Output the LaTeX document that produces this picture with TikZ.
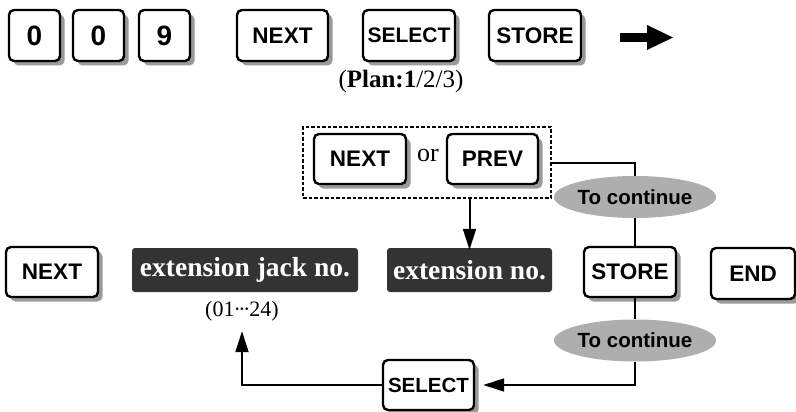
\documentclass[tikz,border=0pt]{standalone}
\usepackage{fontspec}
\setmainfont{Liberation Serif}
\newfontfamily\keyfont{Liberation Sans}
\usetikzlibrary{shadows,shapes.geometric,arrows.meta}
\definecolor{darkbox}{HTML}{333333}
\definecolor{shadowgray}{HTML}{9A9A9A}
\definecolor{ovalgray}{HTML}{AEAEAE}
\tikzset{
  keybox/.style={draw=black, line width=2.4pt, rounded corners=5pt, fill=white,
    inner sep=0pt, minimum height=50pt, minimum width=92pt,
    font=\keyfont\bfseries\fontsize{22.5}{24}\selectfont,
    drop shadow={shadow xshift=4.5pt, shadow yshift=-4.5pt, fill=shadowgray, opacity=1}},
  digitkey/.style={keybox, minimum width=51pt, minimum height=51pt,
    font=\keyfont\bfseries\fontsize{28}{30}\selectfont},
  darkbox/.style={fill=darkbox, rounded corners=3pt, inner sep=0pt, minimum height=44pt,
    text=white, font=\bfseries\fontsize{27.5}{30}\selectfont},
  oval/.style={ellipse, fill=ovalgray, inner sep=0pt, minimum width=141pt, minimum height=42pt,
    font=\keyfont\bfseries\fontsize{20.5}{22}\selectfont},
  conn/.style={line width=2pt},
  arr/.style={conn, -{Triangle[length=21pt,width=13pt]}},
  serifnote/.style={inner sep=0pt, font=\fontsize{21}{24}\selectfont}
}
\begin{document}
\begin{tikzpicture}[x=1pt,y=-1pt]
\useasboundingbox (0,0) rectangle (796,412);
% top row
\node[digitkey] (ka) at (34.5,35.5) {0};
\node[digitkey] (kb) at (98.5,35.5) {0};
\node[digitkey] (kc) at (164.5,35.5) {9};
\node[keybox, minimum width=91pt, minimum height=51pt] (tnext) at (282.5,35.5) {NEXT};
\node[keybox, minimum height=51pt, font=\keyfont\bfseries\fontsize{21}{24}\selectfont] (tselect) at (409,35.5) {SELECT};
\node[keybox, minimum height=51pt] (tstore) at (535,35.5) {STORE};
\fill (620,33) rectangle (649,42);
\fill (647,25) -- (673,37.5) -- (647,50) -- cycle;
\node[serifnote, font=\fontsize{25}{28}\selectfont] (plan) at (401,81) {(\textbf{Plan:1}/2/3)};
% dashed group
\node[draw, dashed, dash pattern=on 3.5pt off 2pt, line width=1.4pt, minimum width=248pt,
  minimum height=71pt, inner sep=0pt] (grp) at (427,162.5) {};
\node[keybox] (gnext) at (360,159) {NEXT};
\node[serifnote, font=\fontsize{26}{28}\selectfont] (gor) at (428,156) {or};
\node[keybox, minimum width=91pt] (gprev) at (492.5,159) {PREV};
% middle row
\node[keybox] (mnext) at (52,272) {NEXT};
\node[darkbox, minimum width=226pt] (jack) at (245,270) {extension jack no.};
\node[serifnote, font=\fontsize{22}{24}\selectfont] (range) at (242,311) {(01\kern-1pt\textperiodcentered\kern-2.5pt\textperiodcentered\kern-2.5pt\textperiodcentered\kern-1pt24)};
\node[darkbox, minimum width=165pt] (extno) at (469.5,270) {extension no.};
\node[keybox] (mstore) at (630,272) {STORE};
\node[keybox, minimum width=84pt, minimum height=51pt] (mend) at (753,273.5) {END};
% ovals
\node[oval] (ova) at (635,197) {To continue};
\node[oval] (ovb) at (635,340.5) {To continue};
% bottom
\node[keybox, minimum width=91pt, font=\keyfont\bfseries\fontsize{20.5}{24}\selectfont] (bselect) at (428.5,385) {SELECT};
% connectors
\draw[conn] (grp.east) -| (ova.north);
\draw[conn] (ova.south) -- (ova.south |- mstore.north);
\draw[conn] (ova.south |- mstore.south) -- (ovb.north);
\draw[arr, shorten >=8pt] (ovb.south) |- (bselect.east);
\draw[arr] (extno.north |- grp.south) -- ([yshift=-2pt]extno.north);
\draw[arr, shorten >=10pt] (bselect.west) -| (range.south);
\end{tikzpicture}
\end{document}
